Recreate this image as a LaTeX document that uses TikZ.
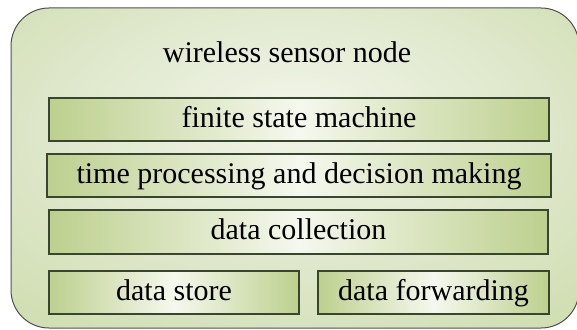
\documentclass[tikz,border=0pt]{standalone}
\usepackage{fontspec}
\setmainfont{Liberation Serif}
\definecolor{boxg}{HTML}{BDD08E}
\definecolor{boxl}{HTML}{F5F8EE}
\definecolor{boxline}{HTML}{3A4530}
\definecolor{outline}{HTML}{505050}
\pgfdeclareradialshading{outershade}{\pgfpoint{0bp}{9bp}}{%
  color(0bp)=(rgb,255:red,241;green,245;blue,232);
  color(22bp)=(rgb,255:red,222;green,231;blue,202);
  color(45bp)=(rgb,255:red,200;green,217;blue,164);
  color(60bp)=(rgb,255:red,196;green,214;blue,158)}
\begin{document}
\begin{tikzpicture}[x=1pt,y=-1pt]
\useasboundingbox (0,0) rectangle (577,329);
\tikzset{
  container/.style={draw=outline, line width=1pt, rounded corners=38pt,
    shading=outershade, inner sep=0pt},
  layer/.style={draw=boxline, line width=1.1pt, left color=boxg, right color=boxg,
    middle color=boxl, inner sep=0pt, text height=21pt, text depth=6pt,
    font=\fontsize{30}{36}\selectfont},
  title/.style={font=\fontsize{30}{36}\selectfont, inner sep=0pt}
}
\node[container, minimum width=568pt, minimum height=320pt] (outer) at (295,168) {};
\node[title, anchor=base] (name) at (287,63) {wireless sensor node};
\node[layer, minimum width=500pt, minimum height=43pt] (fsm) at (299,119.5) {finite state machine};
\node[layer, minimum width=504pt, minimum height=43pt] (tpdm) at (299,175.5) {time processing and decision making};
\node[layer, minimum width=499pt, minimum height=44pt] (dc) at (298.5,232) {data collection};
\node[layer, minimum width=250pt, minimum height=43pt] (ds) at (174,292.5) {data store};
\node[layer, minimum width=231pt, minimum height=43pt] (df) at (433.5,292.5) {data forwarding};
\end{tikzpicture}
\end{document}
